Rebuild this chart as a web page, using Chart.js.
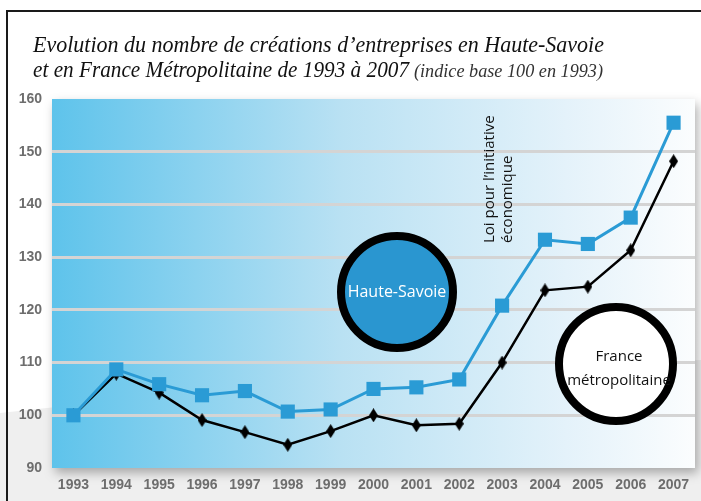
<!DOCTYPE html>
<html>
<head>
<meta charset="utf-8">
<script src="https://cdn.jsdelivr.net/npm/chart.js@4"></script>
<style>
  html, body { margin: 0; padding: 0; background: #fff; }
  #wrap { width: 701px; height: 501px; position: relative; }
</style>
</head>
<body>
<div id="wrap"><canvas id="myChart" width="701" height="501"></canvas></div>
<script>
/* Data */
const years = ['1993', '1994', '1995', '1996', '1997', '1998', '1999', '2000',
               '2001', '2002', '2003', '2004', '2005', '2006', '2007'];
const hauteSavoie = [100, 108.7, 105.9, 103.8, 104.6, 100.7, 101.1, 105.0,
                     105.3, 106.8, 120.8, 133.3, 132.5, 137.5, 155.5];
const france = [100, 107.9, 104.3, 99.1, 96.8, 94.4, 97.0, 100.0,
                98.1, 98.4, 110.0, 123.7, 124.4, 131.3, 148.2];
const yTicks = [90, 100, 110, 120, 130, 140, 150, 160];

const titleLine1 = 'Evolution du nombre de créations d\u2019entreprises en Haute-Savoie';
const titleLine2 = 'et en France Métropolitaine de 1993 à 2007';
const titleNote = '(indice base 100 en 1993)';

const BLUE = '#2a9bd5';

/* Diamond marker for the France series */
function diamond(w, h) {
  var c = document.createElement('canvas');
  c.width = w; c.height = h;
  var g = c.getContext('2d');
  g.fillStyle = '#000';
  g.beginPath();
  g.moveTo(w / 2, 0);
  g.lineTo(w, h / 2);
  g.lineTo(w / 2, h);
  g.lineTo(0, h / 2);
  g.closePath();
  g.fill();
  return c;
}

// draw text squeezed/stretched to a given width
function fitText(ctx, text, x, y, width) {
  var w = ctx.measureText(text).width;
  ctx.save();
  ctx.translate(x, y);
  ctx.scale(width / w, 1);
  ctx.fillText(text, 0, 0);
  ctx.restore();
}

/* Background: grey swoosh, shadowed gradient panel, frame */
const backdrop = {
  id: 'backdrop',
  beforeDraw(chart) {
    const {ctx, chartArea: a} = chart;
    ctx.save();
    ctx.fillStyle = '#fff';
    ctx.fillRect(0, 0, chart.width, chart.height);

    // light grey swoosh behind the bottom
    ctx.fillStyle = '#efefef';
    ctx.beginPath();
    ctx.moveTo(0, 413);
    ctx.quadraticCurveTo(300, 380, chart.width, 360);
    ctx.lineTo(chart.width, chart.height);
    ctx.lineTo(0, chart.height);
    ctx.closePath();
    ctx.fill();

    // panel with drop shadow
    ctx.save();
    ctx.shadowColor = 'rgba(0,0,0,0.3)';
    ctx.shadowBlur = 10;
    ctx.shadowOffsetX = 3;
    ctx.shadowOffsetY = 5;
    const grad = ctx.createLinearGradient(a.left, 0, a.right, 0);
    grad.addColorStop(0, '#5ec3eb');
    grad.addColorStop(0.45, '#b9e1f3');
    grad.addColorStop(0.8, '#e4f2fa');
    grad.addColorStop(1, '#fbfdfe');
    ctx.fillStyle = grad;
    ctx.fillRect(a.left, a.top, a.right - a.left, a.bottom - a.top);
    ctx.restore();

    // frame
    ctx.strokeStyle = '#1a1a1a';
    ctx.lineWidth = 2;
    ctx.beginPath();
    ctx.moveTo(7, chart.height);
    ctx.lineTo(7, 11);
    ctx.lineTo(chart.width, 11);
    ctx.stroke();
    ctx.restore();
  }
};

/* Title and annotations */
const decorations = {
  id: 'decorations',
  afterDraw(chart) {
    const {ctx} = chart;
    ctx.save();
    // title
    ctx.fillStyle = '#111';
    ctx.textBaseline = 'alphabetic';
    ctx.font = 'italic 23px "Liberation Serif"';
    fitText(ctx, titleLine1, 33, 52, 571);
    fitText(ctx, titleLine2, 33, 77, 376);
    ctx.font = 'italic 18px "Liberation Serif"';
    ctx.fillStyle = '#333';
    fitText(ctx, titleNote, 414, 77, 189);

    // Haute-Savoie circle
    ctx.beginPath();
    ctx.arc(397, 292, 56, 0, Math.PI * 2);
    ctx.fillStyle = '#2a96d0';
    ctx.fill();
    ctx.lineWidth = 8;
    ctx.strokeStyle = '#000';
    ctx.stroke();
    ctx.fillStyle = '#fff';
    ctx.font = '16px "Open Sans"';
    ctx.textAlign = 'center';
    ctx.textBaseline = 'middle';
    ctx.fillText('Haute-Savoie', 397, 292);

    // France circle
    ctx.beginPath();
    ctx.arc(616, 364, 57, 0, Math.PI * 2);
    ctx.fillStyle = '#fff';
    ctx.fill();
    ctx.stroke();
    ctx.fillStyle = '#111';
    ctx.font = '15px "Open Sans"';
    ctx.fillText('France', 619, 357);
    ctx.fillText('métropolitaine', 619, 381);

    // rotated note
    ctx.save();
    ctx.translate(497, 243);
    ctx.rotate(-Math.PI / 2);
    ctx.textAlign = 'left';
    ctx.font = '15px "Open Sans"';
    ctx.fillStyle = '#111';
    ctx.fillText('Loi pour l\u2019initiative', 0, -7);
    ctx.fillText('économique', 0, 11);
    ctx.restore();
    ctx.restore();
  }
};

const data = {
  labels: years,
  datasets: [{
    label: 'Haute-Savoie',
    data: hauteSavoie,
    borderColor: BLUE,
    backgroundColor: BLUE,
    borderWidth: 3,
    pointStyle: 'rect',
    pointRadius: 10,
    pointBorderWidth: 0,
    pointBackgroundColor: BLUE,
    order: 1
  }, {
    label: 'France métropolitaine',
    data: france,
    borderColor: '#000',
    backgroundColor: '#000',
    borderWidth: 2.5,
    pointStyle: diamond(9, 14),
    pointRadius: 6,
    order: 2
  }]
};

const tickFont = {family: '"Liberation Sans"', size: 14, weight: 'bold'};

const config = {
  type: 'line',
  data: data,
  plugins: [backdrop, decorations],
  options: {
    responsive: false,
    animation: false,
    layout: {
      autoPadding: false, // big markers would otherwise shrink the plot
      padding: {left: 0, top: 99, right: 6, bottom: 0}
    },
    plugins: {
      legend: {display: false},
      tooltip: {enabled: false}
    },
    elements: {line: {tension: 0}},
    scales: {
      x: {
        offset: true,
        grid: {display: false, drawTicks: false},
        border: {display: false},
        ticks: {
          color: '#6d6d6d',
          font: tickFont,
          padding: 9,
          maxRotation: 0,
          autoSkip: false
        },
        afterFit(scale) {
          scale.height = 33;
          scale.paddingLeft = 0;
          scale.paddingRight = 0;
        }
      },
      y: {
        min: 90,
        max: 160,
        afterBuildTicks(scale) { scale.ticks = yTicks.map(v => ({value: v})); },
        grid: {
          color: ctx => (ctx.tick && (ctx.tick.value === 90 || ctx.tick.value === 160)) ? 'rgba(0,0,0,0)' : '#d4d4d4',
          lineWidth: 3,
          drawTicks: false
        },
        border: {display: false},
        ticks: {
          color: '#6d6d6d',
          font: tickFont,
          padding: 10
        },
        afterFit(scale) { scale.width = 52; }
      }
    }
  }
};

new Chart(document.getElementById('myChart'), config);
</script>
</body>
</html>
